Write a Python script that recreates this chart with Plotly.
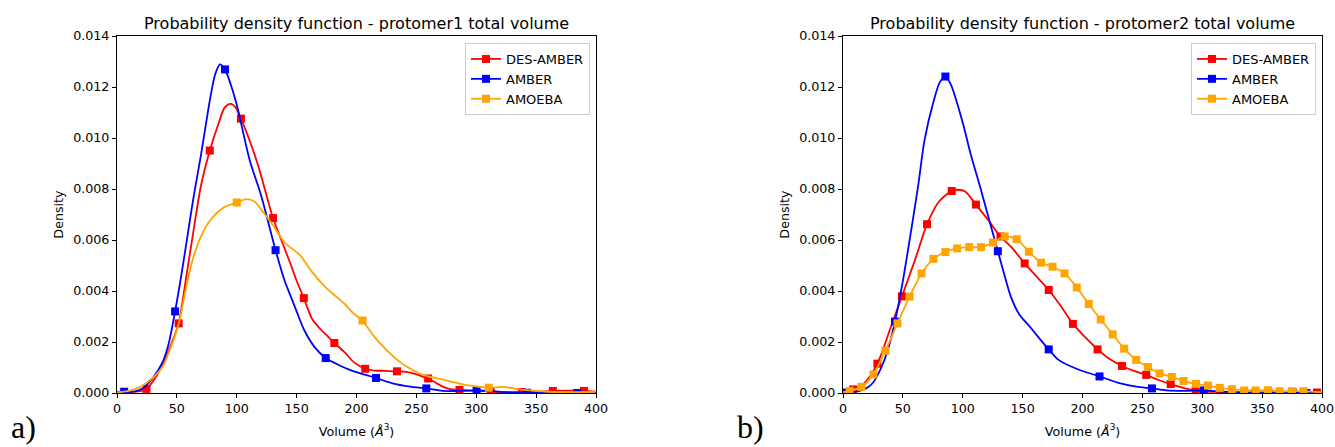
import plotly.graph_objects as go

# ---------------- data ----------------
# Left panel (protomer1)
L_RED_MX = [24.6, 51.5, 77.5, 103.5, 130.3, 156.0, 181.5, 207.3, 233.8, 259.8, 286.0, 312.0, 338.0, 364.0, 390.0]
L_RED_MY = [0.00016, 0.00273, 0.00951, 0.01076, 0.00686, 0.00372, 0.00196, 0.00095, 0.00085, 0.00057, 0.00012, 0.00006, 0.00004, 0.00008, 0.00008]
L_RED_CX = [0, 10, 18, 32, 40, 46, 58, 64, 70, 85, 90, 95, 99, 110, 118, 124, 138, 145, 150, 163, 170, 176, 190, 198, 215, 224, 245, 252, 270, 278, 298, 325, 350, 377, 400]
L_RED_CY = [0.00002, 0.00003, 0.00006, 0.0006, 0.0013, 0.0020, 0.0046, 0.0064, 0.0081, 0.0106, 0.0112, 0.01134, 0.0112, 0.0100, 0.0089, 0.0079, 0.0059, 0.00505, 0.0044, 0.0029, 0.0025, 0.00222, 0.0016, 0.0012, 0.00088, 0.00087, 0.0008, 0.0007, 0.0003, 0.00015, 0.00009, 0.00003, 0.00005, 0.00009, 0.00005]

L_BLU_MX = [6.0, 48.5, 90.2, 132.4, 174.3, 216.3, 258.3, 300.3, 342.3, 384.3]
L_BLU_MY = [0.00005, 0.0032, 0.01269, 0.0056, 0.00137, 0.00059, 0.00018, 0.0001, 0.00001, 0.0]
L_BLU_CX = [0, 15, 22, 30, 38, 43, 54, 58, 64, 70, 78, 82, 86, 95, 100, 111, 120, 140, 145, 150, 156, 165, 185, 196, 230, 245, 272, 285, 312, 325, 360, 400]
L_BLU_CY = [0.00004, 0.00006, 0.0002, 0.0006, 0.0012, 0.0019, 0.0047, 0.0059, 0.0077, 0.0093, 0.0116, 0.0125, 0.01289, 0.0121, 0.0113, 0.0091, 0.0078, 0.0044, 0.0038, 0.0032, 0.0025, 0.0018, 0.0011, 0.00088, 0.00038, 0.00025, 0.00008, 0.00008, 0.00008, 0.00003, 0.0, 0.0]

L_ORG_MX = [100.0, 205.0, 310.5]
L_ORG_MY = [0.00747, 0.00284, 0.00021]
L_ORG_CX = [0, 10, 20, 30, 38, 45, 52, 58, 63, 68, 74, 80, 90, 108, 115, 122, 130, 140, 153, 162, 173, 180, 190, 198, 215, 234, 245, 256, 270, 285, 298, 322, 340, 360, 380, 400]
L_ORG_CY = [0.00002, 0.00008, 0.00025, 0.0006, 0.00103, 0.0018, 0.0028, 0.0042, 0.0052, 0.0059, 0.0065, 0.0069, 0.0073, 0.0076, 0.0075, 0.0071, 0.0066, 0.0059, 0.0054, 0.0048, 0.0042, 0.0039, 0.0035, 0.0031, 0.0022, 0.0013, 0.00095, 0.0007, 0.00055, 0.00038, 0.00027, 0.00024, 0.00012, 0.00005, 0.00003, 0.00005]

# Right panel (protomer2)
R_RED_MX = [8.5, 28.7, 49.2, 70.2, 90.8, 111.0, 131.5, 151.7, 171.8, 192.0, 212.6, 233.0, 253.2, 273.7, 294.5, 314.8, 335.0, 355.3, 375.6, 395.8]
R_RED_MY = [0.00014, 0.00115, 0.00379, 0.00662, 0.00792, 0.00739, 0.00614, 0.00508, 0.00404, 0.00271, 0.00171, 0.00106, 0.00071, 0.00035, 0.0001, 0.00004, 0.00002, 0.00002, 0.00002, 0.00002]
R_RED_CX = [0, 18, 40, 60, 80, 96, 102, 121, 141, 161, 182, 202, 222, 243, 263, 284, 305, 400]
R_RED_CY = [0.00005, 0.0004, 0.0026, 0.0052, 0.0075, 0.00797, 0.0079, 0.0068, 0.0057, 0.0046, 0.0034, 0.0022, 0.00135, 0.00087, 0.00052, 0.0002, 0.00005, 0.00002]

R_BLU_MX = [0.5, 43.4, 85.5, 129.3, 171.8, 214.2, 258.0, 301.3, 344.0, 387.0]
R_BLU_MY = [0.00002, 0.0028, 0.01241, 0.00556, 0.00171, 0.00065, 0.00018, 0.0001, 0.0, 0.0]
R_BLU_CX = [8, 20, 25, 32, 37.5, 50, 57, 63, 68, 76, 81, 90, 100, 107, 115, 122, 135, 140, 147, 156, 163, 180, 195, 230, 245, 270, 285, 315, 330, 360, 400]
R_BLU_CY = [0.00003, 0.0002, 0.0004, 0.001, 0.0017, 0.0044, 0.0064, 0.0082, 0.0099, 0.0115, 0.0122, 0.0121, 0.0106, 0.0093, 0.0080, 0.0068, 0.0046, 0.0038, 0.0031, 0.0026, 0.0022, 0.0013, 0.00095, 0.0004, 0.00025, 0.0001, 0.00008, 0.00006, 0.00002, 0.0, 0.0]

R_ORG_MX = [5.6, 15.4, 25.4, 35.4, 45.5, 55.6, 65.6, 75.5, 85.5, 95.3, 105.4, 115.3, 125.2, 135.0, 145.0, 155.2, 165.4, 175.0, 185.0, 195.2, 205.2, 215.2, 225.2, 234.8, 244.8, 254.6, 264.4, 274.6, 284.4, 294.8, 304.8, 314.6, 324.8, 335.0, 344.6, 354.8, 364.6, 374.8, 384.6]
R_ORG_MY = [0.00008, 0.00024, 0.00073, 0.00166, 0.00273, 0.00378, 0.00469, 0.00526, 0.00553, 0.00567, 0.00572, 0.00572, 0.0059, 0.00614, 0.00603, 0.00554, 0.00511, 0.00495, 0.00469, 0.00414, 0.00349, 0.00288, 0.0023, 0.00174, 0.0013, 0.00102, 0.00077, 0.00063, 0.00047, 0.00036, 0.00029, 0.0002, 0.00015, 0.0001, 0.0001, 0.00011, 0.00007, 0.00007, 0.00007]
R_ORG_CX = [0, 395, 400]
R_ORG_CY = [0.00003, 0.00004, 0.00003]

SERIES = ["DES-AMBER", "AMBER", "AMOEBA"]
COLORS = ["#ff0000", "#0000ff", "#ffa500"]
TITLES = ["Probability density function - protomer1 total volume",
          "Probability density function - protomer2 total volume"]
PANEL_LABELS = ["a)", "b)"]

panels = [
    [(L_RED_CX, L_RED_CY, L_RED_MX, L_RED_MY),
     (L_BLU_CX, L_BLU_CY, L_BLU_MX, L_BLU_MY),
     (L_ORG_CX, L_ORG_CY, L_ORG_MX, L_ORG_MY)],
    [(R_RED_CX, R_RED_CY, R_RED_MX, R_RED_MY),
     (R_BLU_CX, R_BLU_CY, R_BLU_MX, R_BLU_MY),
     (R_ORG_CX, R_ORG_CY, R_ORG_MX, R_ORG_MY)],
]

FONT = "DejaVu Sans"
W, H = 1335, 447
fig = go.Figure()

for p, series in enumerate(panels):
    xa = "x" if p == 0 else "x2"
    ya = "y" if p == 0 else "y2"
    leg = "legend" if p == 0 else "legend2"
    for (cx, cy, mx, my), name, col in zip(series, SERIES, COLORS):
        pts = sorted(zip(list(cx) + list(mx), list(cy) + list(my)))
        fig.add_trace(go.Scatter(
            x=[a for a, _ in pts], y=[b for _, b in pts], mode="lines",
            line=dict(color=col, width=1.8, shape="spline", smoothing=0.8),
            xaxis=xa, yaxis=ya, showlegend=False, hoverinfo="skip"))
        fig.add_trace(go.Scatter(
            x=mx, y=my, mode="markers",
            marker=dict(symbol="square", size=8, color=col),
            xaxis=xa, yaxis=ya, showlegend=False, name=name))
        fig.add_trace(go.Scatter(
            x=[None], y=[None], mode="lines+markers", name=name,
            line=dict(color=col, width=1.8),
            marker=dict(symbol="square", size=8, color=col),
            xaxis=xa, yaxis=ya, showlegend=True, legend=leg))

y_dom = [1 - 393 / H, 1 - 36 / H]
x_doms = [[117 / W, 596 / W], [843 / W, 1322 / W]]

axis_common = dict(showline=True, mirror=True, linecolor="black", linewidth=1,
                   ticks="outside", ticklen=4, tickcolor="black", showgrid=False,
                   zeroline=False, automargin=False,
                   tickfont=dict(family=FONT, size=12.7, color="black"))

for p in range(2):
    sx = "" if p == 0 else "2"
    fig.update_layout(**{
        "xaxis" + sx: dict(domain=x_doms[p], range=[0, 400], dtick=50, tick0=0,
                           anchor="y" + sx,
                           title=dict(text="Volume (<i>Å</i><sup>3</sup>)", standoff=11,
                                      font=dict(family=FONT, size=12.7, color="black")),
                           **axis_common),
        "yaxis" + sx: dict(domain=y_dom, range=[0, 0.014], dtick=0.002, tick0=0,
                           tickformat=".3f", anchor="x" + sx,
                           title=dict(text="Density", standoff=6,
                                      font=dict(family=FONT, size=12.7, color="black")),
                           **axis_common),
    })
    xc = (x_doms[p][0] + x_doms[p][1]) / 2
    fig.add_annotation(x=xc, y=1 - 23 / H, xref="paper", yref="paper",
                       text=TITLES[p], showarrow=False,
                       font=dict(family=FONT, size=16, color="black"),
                       xanchor="center", yanchor="middle")

fig.add_annotation(x=9 / W, y=0, xref="paper", yref="paper", text=PANEL_LABELS[0],
                   showarrow=False, xanchor="left", yanchor="bottom",
                   font=dict(family="Liberation Serif", size=32, color="black"))
fig.add_annotation(x=735 / W, y=0, xref="paper", yref="paper", text=PANEL_LABELS[1],
                   showarrow=False, xanchor="left", yanchor="bottom",
                   font=dict(family="Liberation Serif", size=32, color="black"))

legend_common = dict(xanchor="right", yanchor="top", bgcolor="rgba(255,255,255,0.8)",
                     bordercolor="#cccccc", borderwidth=1,
                     font=dict(family=FONT, size=13, color="black"),
                     tracegroupgap=0, itemwidth=30)
fig.update_layout(
    width=W, height=H, margin=dict(l=0, r=0, t=0, b=0),
    paper_bgcolor="white", plot_bgcolor="white",
    legend=dict(x=590 / W, y=1 - 43 / H, **legend_common),
    legend2=dict(x=1316 / W, y=1 - 43 / H, **legend_common),
)

fig.write_html(
    "out.html",
    config={"displayModeBar": False},
    post_script=("document.body.style.margin='0';"
                 "document.body.style.padding='0';"
                 "document.body.style.overflow='hidden';"),
)
